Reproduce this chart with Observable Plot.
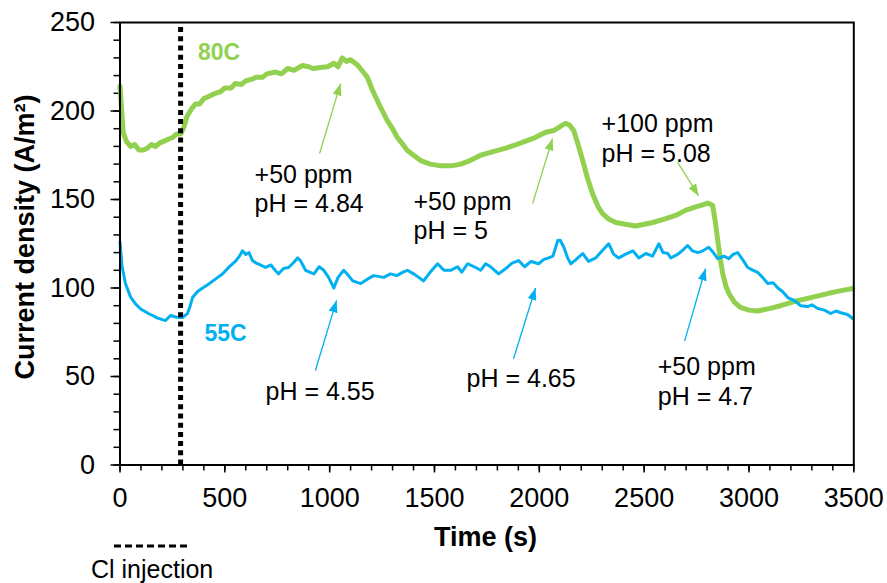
<!DOCTYPE html>
<html><head><meta charset="utf-8">
<script src="https://cdn.jsdelivr.net/npm/d3@7"></script>
<script src="https://cdn.jsdelivr.net/npm/@observablehq/plot@0.6"></script>
<style>
body{margin:0;background:#fff;}
#wrap{position:relative;width:887px;height:583px;overflow:hidden;background:#fff;}
#legend{position:absolute;left:0;top:0;pointer-events:none;}
</style>
</head><body><div id="wrap"></div>
<script>
// ---- data ----
const greenT = [0,8,15,30,50,70,90,112,130,150,170,190,210,230,250,270,290,305,320,340,360,380,400,420,455,480,500,530,550,580,600,630,647,680,700,742,770,800,830,871,900,920,957,990,1020,1040,1060,1080,1100,1133,1160,1180,1200,1211,1243,1275,1300,1323,1350,1371,1400,1434,1480,1530,1580,1625,1670,1720,1780,1840,1890,1935,1980,2030,2070,2093,2110,2126,2145,2164,2185,2207,2230,2255,2280,2302,2330,2365,2410,2460,2500,2541,2600,2650,2700,2750,2780,2803,2827,2840,2851,2865,2875,2890,2904,2930,2960,3000,3042,3100,3151,3220,3295,3380,3440,3495];
const greenY = [214,200,188,183,180,181,178,178,179,181,180,182,183,184,185,187,187,191,197,201,204,204,207,208,210,211,213,213,215.5,215,217,218,219,219,221,222,221,224,223,225.7,225,224,224.6,225,227,225,230,228,229,226,222,219,213,210,202,194.6,190,185,181,177.7,175,172,170,169,169,170,172,175,177,179,181,183,185,188,189,190.7,192,193,192,189,181,172,162,153,146,142,139,137,136,135,136,137,139,141,144,146,147,148,146.6,137,127,115,108,101,97,92,89,87.5,87,88.5,90,92.5,94.6,97,98.5,99.7];
const blueT = [0,10,26,50,74,100,136,180,217,241,270,298,322,335,346,370,394,420,455,490,518,550,570,584,600,615,632,650,670,694,720,740,756,780,804,825,847,861,885,925,950,972,995,1020,1040,1067,1090,1110,1148,1180,1210,1258,1290,1320,1350,1371,1400,1425,1448,1480,1515,1545,1577,1610,1630,1658,1690,1720,1744,1768,1806,1840,1870,1901,1930,1960,1997,2020,2044,2065,2088,2100,2117,2135,2150,2175,2207,2235,2269,2300,2331,2355,2379,2410,2446,2475,2508,2540,2570,2590,2613,2627,2660,2690,2707,2730,2756,2780,2808,2830,2851,2880,2904,2925,2946,2970,2994,3020,3042,3065,3090,3115,3138,3160,3185,3215,3247,3280,3300,3328,3360,3390,3415,3438,3470,3495];
const blueY = [126,112,102.5,95,91,88,85.6,83,81.6,84.5,83.5,83.3,85.6,90,94.6,98,100,102,105,108,111.6,115,118,121,119,120,115.5,114,113,111.6,113,110,108,111,111.6,114,117,115.5,110,108,112,110,106,100,106,110,107,104,102.5,105,107,106,108,107,109,110,108,106,104,109,113.7,110,110,112,109,113.7,112,110,113.7,112,108,111,114,115.5,112,115,113.7,116,117,118,126.8,127,123,117,113.7,116,119.5,115,117,121,125,119,117,119,121,117,119.5,118,125,120,119.5,117,119,122,124,121,120,121,123,120,116.6,118,116.6,119,120,116,111.6,110,108.8,106,102.5,103,100,98,94.6,93,90,89.5,90.5,88.4,87.5,85.6,87,86,85,82.8];

const injectionT = [289];
const xMajor = [0,500,1000,1500,2000,2500,3000,3500];
const yMajor = [0,50,100,150,200,250];

const seriesNames = ["80C", "55C"];
const seriesLabelT = [372, 403];
const seriesLabelY = [233, 74.3];

const noteText = ["+50 ppm\npH = 4.84", "+50 ppm\npH = 5", "+100 ppm\npH = 5.08", "pH = 4.55", "pH = 4.65", "+50 ppm\npH = 4.7"];
const noteT = [642, 1400, 2297, 694, 1653, 2565];
const noteY = [156.5, 141.2, 185, 42, 49.4, 47.7];

const arrowSeries = ["80C","80C","80C","55C","55C","55C"];
const arrowT1 = [952, 1968, 2660, 932, 1877, 2693];
const arrowY1 = [176, 147.7, 171, 53.4, 60, 70];
const arrowT2 = [1052, 2063, 2760, 1033, 1982, 2793];
const arrowY2 = [215.5, 184.5, 152, 93, 100, 111];

// ---- build ----
const GREEN = "#92D050", BLUE = "#00B0F0";
const colorOf = s => s === "80C" ? GREEN : BLUE;
const green = greenT.map((t, i) => ({t, v: greenY[i]}));
const blue = blueT.map((t, i) => ({t, v: blueY[i]}));
const notes = noteText.map((s, i) => ({s, t: noteT[i], v: noteY[i]}));
const arrows = arrowSeries.map((s, i) => ({s, t1: arrowT1[i], y1: arrowY1[i], t2: arrowT2[i], y2: arrowY2[i]}));
const labels = seriesNames.map((s, i) => ({s, t: seriesLabelT[i], v: seriesLabelY[i]}));

function triHead(color) {
  const ns = "http://www.w3.org/2000/svg";
  const m = document.createElementNS(ns, "marker");
  m.setAttribute("viewBox", "-12 -4.5 12 9");
  m.setAttribute("markerWidth", 12);
  m.setAttribute("markerHeight", 9);
  m.setAttribute("markerUnits", "userSpaceOnUse");
  m.setAttribute("orient", "auto");
  const p = document.createElementNS(ns, "path");
  p.setAttribute("d", "M-12,-4.5L0,0L-12,4.5Z");
  p.setAttribute("fill", color);
  m.appendChild(p);
  return m;
}

const chart = Plot.plot({
  width: 887, height: 583,
  marginLeft: 119.5, marginRight: 33.7, marginTop: 22, marginBottom: 118.5,
  style: {fontFamily: "'Liberation Sans', Arial, sans-serif", fontSize: "27px", background: "#fff", color: "#000"},
  x: {domain: [0, 3500]},
  y: {domain: [0, 250]},
  marks: [
    Plot.axisX({ticks: d3.range(0, 3501, 100), tickSize: 6, tickFormat: () => "", label: null, strokeWidth: 1.5}),
    Plot.axisX({ticks: xMajor, tickSize: 8, tickPadding: 15, tickFormat: "d", fontSize: 27, label: null, strokeWidth: 1.5}),
    Plot.axisY({ticks: d3.range(0, 251, 10), tickSize: 6, tickFormat: () => "", label: null, strokeWidth: 1.5}),
    Plot.axisY({ticks: yMajor, tickSize: 9, tickPadding: 16, tickFormat: "d", fontSize: 27, label: null, strokeWidth: 1.5}),
    Plot.line(green, {x: "t", y: "v", stroke: GREEN, strokeWidth: 5, strokeLinejoin: "round"}),
    Plot.line(blue, {x: "t", y: "v", stroke: BLUE, strokeWidth: 3, strokeLinejoin: "round"}),
    Plot.ruleX(injectionT, {y1: 0, y2: 249, stroke: "#000", strokeWidth: 5, strokeDasharray: "5,4.2"}),
    Plot.link(arrows, {x1: "t1", y1: "y1", x2: "t2", y2: "y2", stroke: d => colorOf(d.s), strokeWidth: 1.3, markerEnd: triHead}),
    Plot.text(notes, {x: "t", y: "v", text: "s", textAnchor: "start", lineAnchor: "middle", lineHeight: 1.17, fontSize: 25, fill: "#000"}),
    Plot.text(labels, {x: "t", y: "v", text: "s", textAnchor: "start", fontSize: 23, fontWeight: "bold", fill: d => colorOf(d.s)}),
    Plot.text(["Current density (A/m²)"], {frameAnchor: "left", text: d => d, textAnchor: "middle", lineAnchor: "middle", rotate: -90, dx: -94.5, dy: -6.75, fontSize: 27, fontWeight: "bold", fill: "#000"}),
    Plot.text(["Time (s)"], {frameAnchor: "bottom", text: d => d, textAnchor: "middle", lineAnchor: "middle", dx: -1.4, dy: 72.5, fontSize: 27, fontWeight: "bold", fill: "#000"}),
    Plot.frame({stroke: "#000", strokeWidth: 2})
  ]
});
const wrap = document.getElementById("wrap");
wrap.appendChild(chart);

// legend (below the axis, bottom-left)
const legendLabel = "Cl injection";
const lg = d3.select(wrap).append("svg").attr("id", "legend").attr("width", 887).attr("height", 583);
lg.append("line").attr("x1", 114).attr("x2", 189).attr("y1", 546).attr("y2", 546)
  .attr("stroke", "#000").attr("stroke-width", 3).attr("stroke-dasharray", "7,4");
lg.append("text").attr("x", 91).attr("y", 578).text(legendLabel)
  .attr("font-family", "'Liberation Sans', Arial, sans-serif").attr("font-size", 25).attr("fill", "#000");
</script></body></html>
